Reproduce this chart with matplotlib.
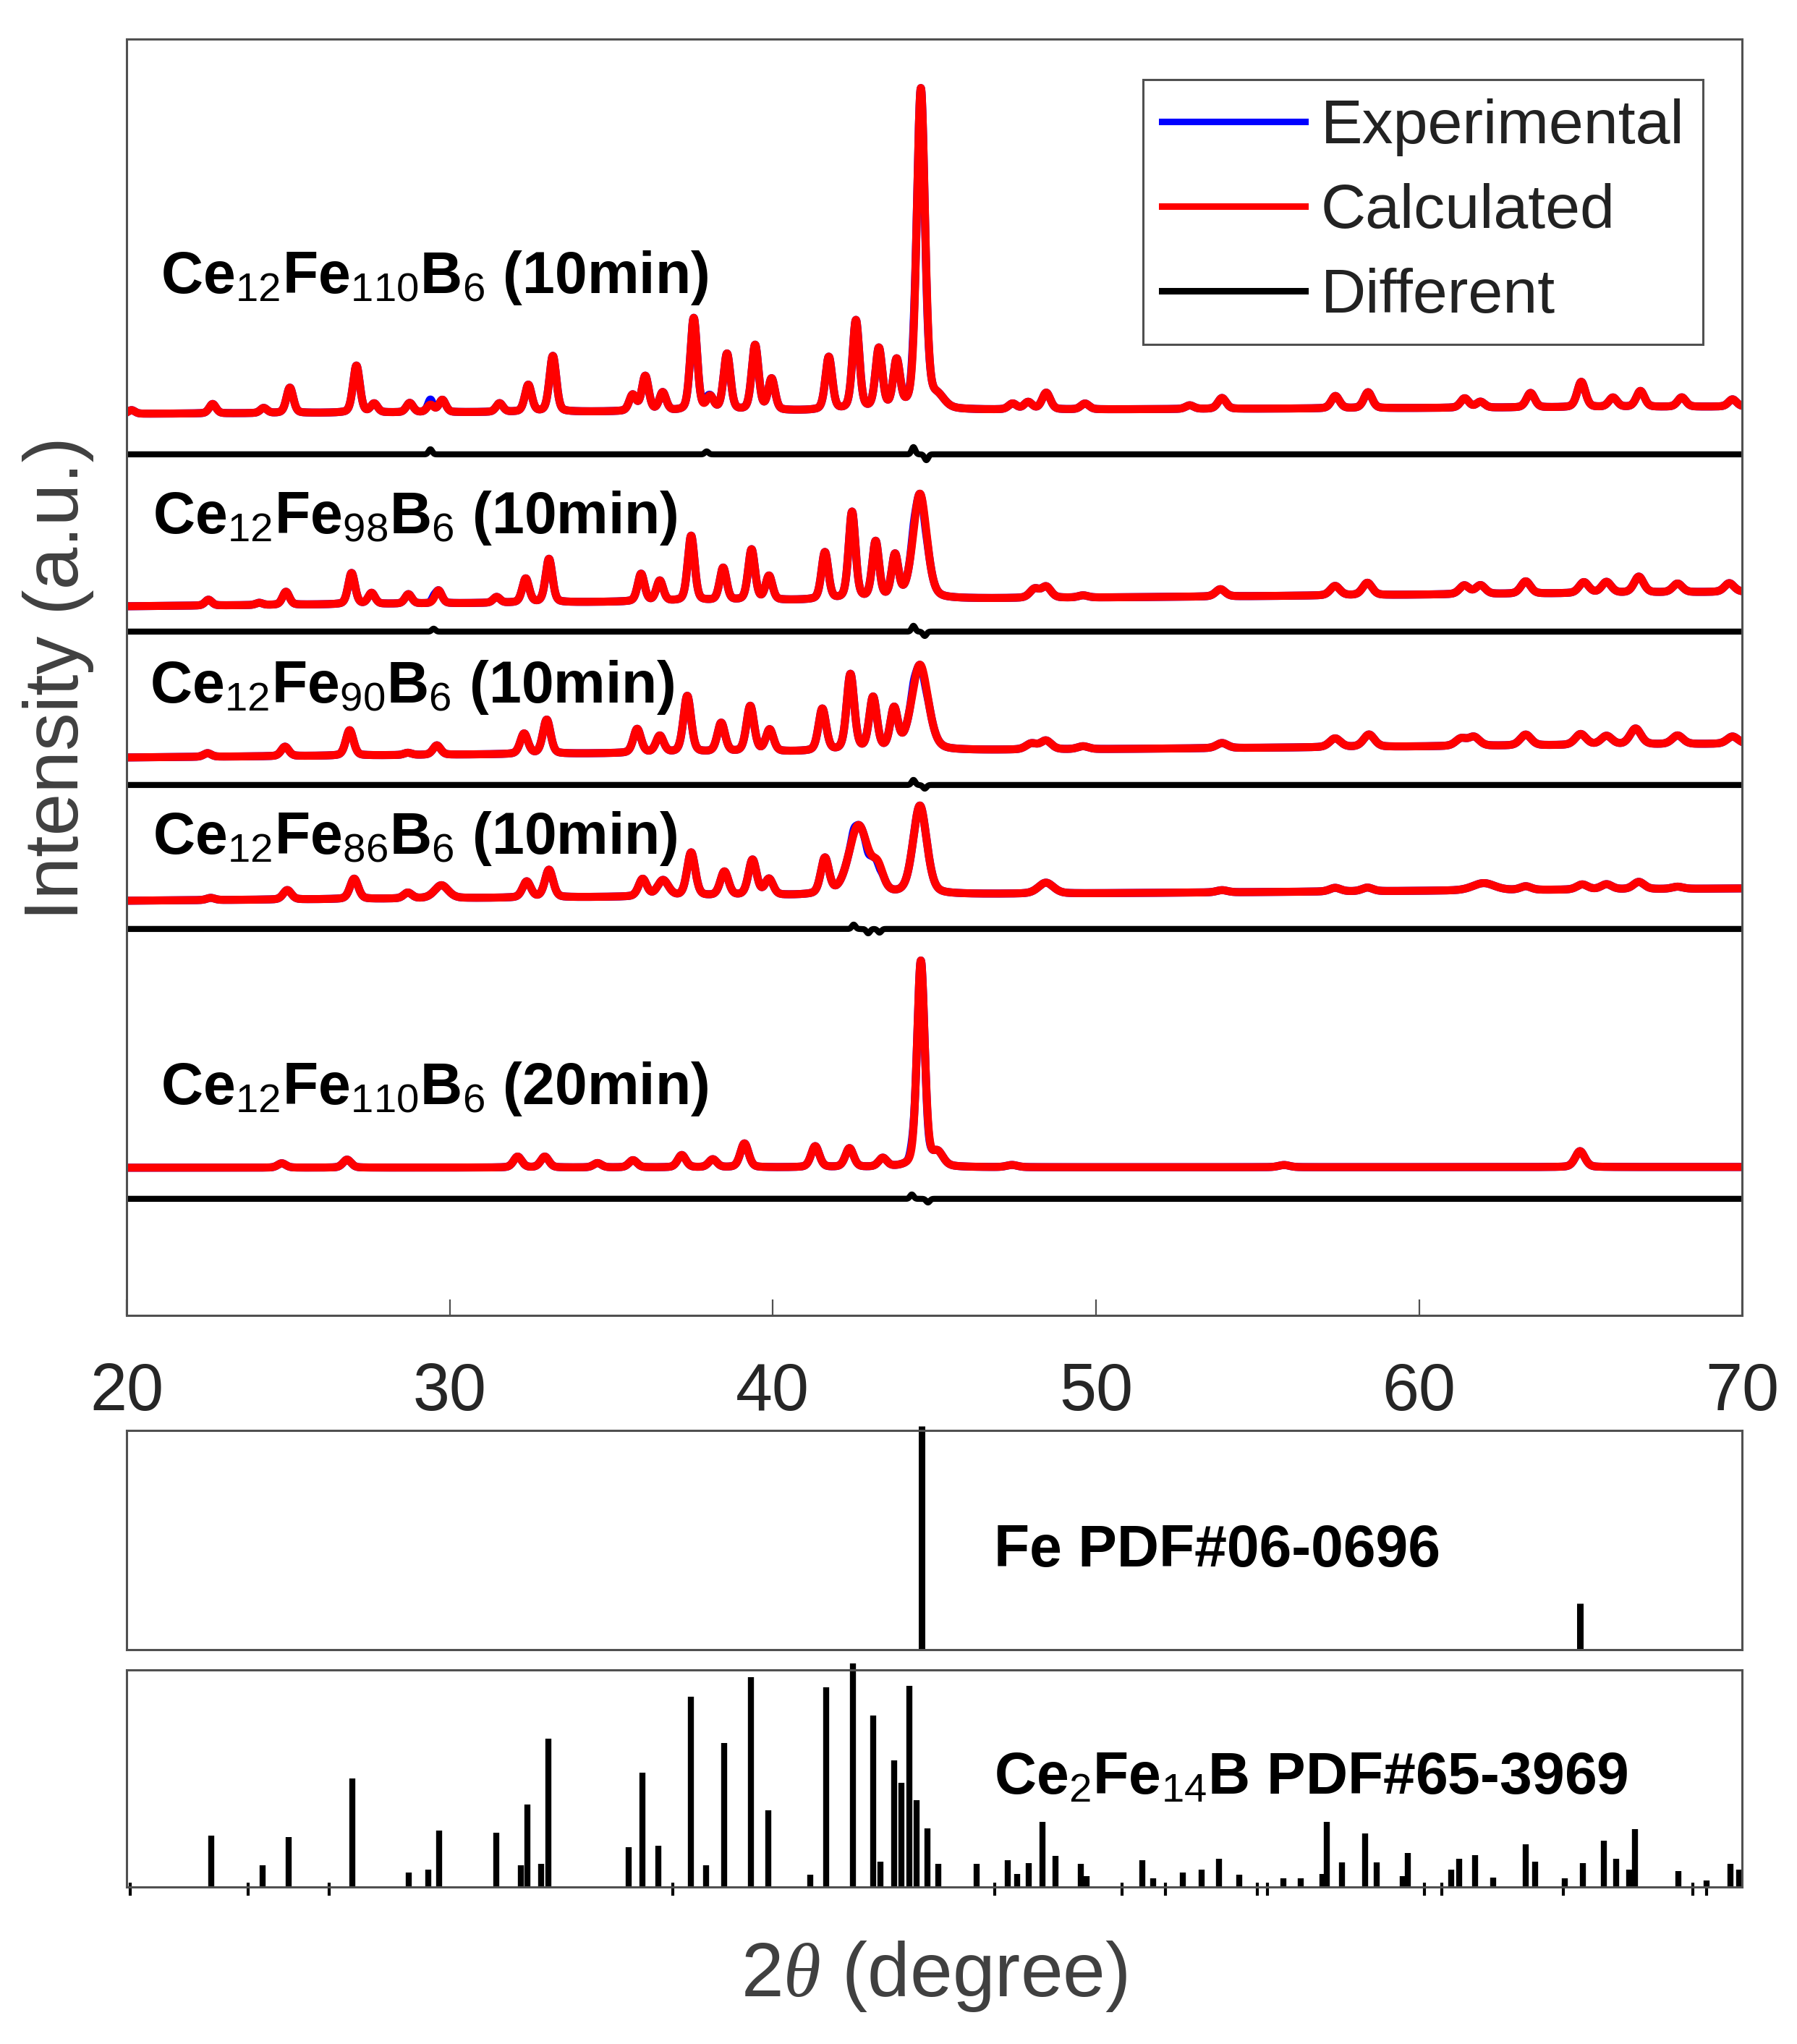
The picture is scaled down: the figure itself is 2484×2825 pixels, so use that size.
import numpy as np
import matplotlib.pyplot as plt
from matplotlib.lines import Line2D

plt.rcParams['font.family'] = ['Liberation Sans', 'DejaVu Sans']
plt.rcParams['mathtext.fontset'] = 'custom'
plt.rcParams['mathtext.rm'] = 'Liberation Sans'
plt.rcParams['mathtext.it'] = 'Liberation Serif:italic'
plt.rcParams['mathtext.bf'] = 'Liberation Sans:bold'

# ---- data (peak position [deg], height [a.u.], fwhm [deg]) ----
labels = [r'Ce$_{12}$Fe$_{110}$B$_6$ (10min)', r'Ce$_{12}$Fe$_{98}$B$_6$ (10min)',
          r'Ce$_{12}$Fe$_{90}$B$_6$ (10min)', r'Ce$_{12}$Fe$_{86}$B$_6$ (10min)',
          r'Ce$_{12}$Fe$_{110}$B$_6$ (20min)']

p1_pos = [20.15, 22.66, 24.24, 25.05, 27.11, 27.66, 28.76, 29.40, 29.77, 31.54, 32.43, 33.19,
          35.66, 36.05, 36.59, 37.55, 38.06, 38.58, 39.45, 39.96, 41.73, 42.57, 43.28, 43.83,
          44.58, 45.10, 47.42, 47.90, 48.46, 49.66, 52.90, 53.90, 57.41, 58.42, 61.41, 61.90,
          63.45, 65.02, 66.00, 66.85, 68.13, 69.70]
p1_int = [5, 13, 7, 35, 65, 12, 13, 10, 17, 12, 37, 77,
          22, 48, 25, 128, 18, 78, 90, 43, 73, 123, 83, 65,
          443, 15, 8, 10, 23, 8, 5, 15, 17, 22, 13, 8,
          20, 35, 13, 22, 13, 10]
p1_fw = [0.25] * 24 + [0.30, 0.5] + [0.3] * 16

p2_pos = [22.53, 24.10, 24.93, 26.96, 27.58, 28.72, 29.65, 31.45, 32.35, 33.07, 35.92, 36.50,
          37.47, 38.46, 39.34, 39.88, 41.61, 42.45, 43.18, 43.78, 44.55, 48.10, 48.46, 49.60,
          53.85, 57.40, 58.40, 61.40, 61.90, 63.30, 65.10, 65.80, 66.80, 68.00, 69.60]
p2_int = [8, 3, 18, 43, 15, 13, 18, 8, 33, 60, 38, 28,
          90, 45, 70, 33, 65, 120, 78, 58, 145, 12, 15, 3,
          10, 13, 17, 12, 12, 17, 15, 15, 22, 12, 12]
p2_fw = [0.25] * 20 + [0.50] + [0.35] * 14

p3_pos = [22.50, 24.90, 26.90, 28.70, 29.60, 32.30, 33.00, 35.80, 36.50, 37.35, 38.40, 39.30,
          39.90, 41.53, 42.40, 43.10, 43.75, 44.55, 48.00, 48.45, 49.60, 53.90, 57.40, 58.45,
          61.30, 61.70, 63.30, 65.00, 65.80, 66.70, 68.00, 69.70]
p3_int = [5, 13, 35, 3, 13, 28, 47, 33, 23, 78, 40, 63,
          30, 58, 105, 72, 55, 118, 8, 12, 4, 7, 12, 17,
          10, 12, 15, 15, 12, 22, 12, 10]
p3_fw = [0.28] * 17 + [0.60] + [0.4] * 14

p4_pos = [22.60, 24.97, 27.04, 28.70, 29.74, 32.38, 33.07, 35.97, 36.60, 37.47, 38.50, 39.37,
          39.88, 41.61, 42.65, 43.25, 44.55, 48.45, 53.90, 57.40, 58.40, 62.00, 63.30, 65.05,
          65.80, 66.80, 68.00]
p4_int = [3, 13, 28, 8, 18, 22, 38, 24, 22, 60, 33, 49,
          22, 49, 95, 30, 122, 15, 3, 5, 5, 10, 5, 7,
          7, 10, 3]
p4_fw = [0.3, 0.3, 0.3, 0.3, 0.5, 0.3, 0.3, 0.3, 0.4, 0.3, 0.3, 0.3,
         0.3, 0.3, 0.70, 0.40, 0.50, 0.55, 0.4, 0.4, 0.4, 0.8, 0.4, 0.4,
         0.4, 0.4, 0.4]

p5_pos = [24.80, 26.82, 32.10, 32.94, 34.57, 35.67, 37.18, 38.14, 39.12, 41.31, 42.37, 43.40,
          44.58, 45.10, 47.40, 55.82, 64.98]
p5_int = [6, 11, 15, 15, 6, 10, 17, 11, 33, 29, 26, 12,
          285, 18, 3, 3, 22]
p5_fw = [0.3] * 12 + [0.28, 0.4, 0.4, 0.4, 0.35]

# background level at 20 and 70 deg, and level of the difference curve
bg_start = [1246, 980, 771, 573, 204]
bg_end = [1256, 1000, 790, 590, 205]
diff_level = [1190, 945, 733, 534, 161]

# residual (exp - calc) features
d1_pos, d1_amp = [29.40, 37.95, 44.35, 44.75], [7, 4, 10, -8]
d2_pos, d2_amp = [29.50, 44.35, 44.70], [4, 8, -6]
d3_pos, d3_amp = [44.35, 44.70], [7, -5]
d4_pos, d4_amp = [42.50, 42.95, 43.30], [6, -6, -5]
d5_pos, d5_amp = [44.30, 44.80], [6, -5]

# reference patterns (relative intensities)
fe_pos = [44.60, 64.98]
fe_int = [1.02, 0.21]

ce_pos = [22.61, 24.20, 25.01, 26.98, 28.72, 29.34, 29.67, 31.43, 32.20, 32.41, 32.83, 33.06,
          35.54, 35.97, 36.45, 37.46, 37.94, 38.49, 39.31, 39.86, 41.16, 41.64, 42.48, 43.11,
          43.33, 43.76, 43.97, 44.22, 44.45, 44.79, 45.13, 46.30, 47.27, 47.55, 47.91, 48.34,
          48.75, 49.52, 49.70, 51.43, 51.77, 52.68, 53.26, 53.80, 54.43, 55.80, 56.33, 57.00,
          57.14, 57.62, 58.33, 58.69, 59.50, 59.64, 61.00, 61.25, 61.73, 62.30, 63.30, 63.60,
          64.50, 65.08, 65.71, 66.10, 66.50, 66.69, 68.03, 68.90, 69.63, 69.90]
ce_int = [0.236, 0.10, 0.23, 0.50, 0.067, 0.08, 0.26, 0.25, 0.10, 0.38, 0.107, 0.685,
          0.185, 0.528, 0.19, 0.876, 0.10, 0.663, 0.966, 0.354, 0.056, 0.92, 1.03, 0.79,
          0.118, 0.584, 0.48, 0.927, 0.40, 0.27, 0.107, 0.107, 0.124, 0.06, 0.109, 0.30,
          0.143, 0.107, 0.05, 0.124, 0.04, 0.067, 0.08, 0.13, 0.056, 0.04, 0.04, 0.06,
          0.30, 0.112, 0.247, 0.112, 0.05, 0.157, 0.08, 0.13, 0.146, 0.045, 0.197, 0.118,
          0.04, 0.109, 0.213, 0.13, 0.08, 0.266, 0.073, 0.03, 0.107, 0.08]
# very weak lines that show as small marks under the baseline
ce_weak = [20.10, 23.76, 26.26, 36.91, 46.87, 50.80, 52.14, 55.00, 55.30, 60.17, 60.70,
           64.46, 68.47, 68.90]

peaks = [(p1_pos, p1_int, p1_fw), (p2_pos, p2_int, p2_fw), (p3_pos, p3_int, p3_fw),
         (p4_pos, p4_int, p4_fw), (p5_pos, p5_int, p5_fw)]
resid = [(d1_pos, d1_amp), (d2_pos, d2_amp), (d3_pos, d3_amp), (d4_pos, d4_amp), (d5_pos, d5_amp)]
label_y = [1413, 1081, 847, 638, 292]
label_x = [21.05, 20.8, 20.72, 20.8, 21.05]


def pvoigt(x, x0, h, w, eta=0.3):
    u = (x - x0) / w
    return h * (eta / (1 + 4 * u**2) + (1 - eta) * np.exp(-4 * np.log(2) * u**2))


tt = np.arange(20, 70.0001, 0.01)
edge = '#505050'

fig = plt.figure(figsize=(24.84, 28.25), dpi=100)
ax = fig.add_axes([0.0705, 0.3565, 0.899, 0.6244])
ax_fe = fig.add_axes([0.0705, 0.1929, 0.899, 0.1073])
ax_ce = fig.add_axes([0.0705, 0.0768, 0.899, 0.1062])

for i in range(5):
    pos, inten, fw = peaks[i]
    calc = bg_start[i] + (bg_end[i] - bg_start[i]) * (tt - 20) / 50
    for p, h, w in zip(pos, inten, fw):
        calc = calc + pvoigt(tt, p, h, w)
    diff = np.zeros_like(tt)
    for p, a in zip(*resid[i]):
        diff = diff + a * np.exp(-((tt - p) / 0.08)**2)
    ax.plot(tt, calc + diff, color='blue', lw=8, solid_joinstyle='round')
    ax.plot(tt, calc, color='red', lw=8, solid_joinstyle='round')
    ax.plot(tt, diff_level[i] + diff, color='black', lw=6)
    ax.text(label_x[i], label_y[i], labels[i], fontsize=58, fontweight='bold',
            ha='left', va='baseline')

ax.set_xlim(20, 70)
ax.set_ylim(0, 1764)
ax.set_xticks([20, 30, 40, 50, 60, 70])
ax.set_yticks([])
ax.tick_params(axis='x', direction='in', length=16, width=1.6, color=edge,
               labelsize=66, labelcolor='#262626', pad=46)

handles = [Line2D([], [], color='blue', lw=6.5), Line2D([], [], color='red', lw=6.5),
           Line2D([], [], color='black', lw=6.5)]
leg = ax.legend(handles, ['Experimental', 'Calculated', 'Different'], loc='upper right',
                bbox_to_anchor=(0.9758, 0.9683), borderaxespad=0, fontsize=62,
                handlelength=2.3, handletextpad=0.25, labelspacing=0.43,
                borderpad=0.3, fancybox=False, framealpha=1)
leg.get_frame().set_edgecolor(edge)
leg.get_frame().set_linewidth(2.2)
for t in leg.get_texts():
    t.set_color('#222222')

# Fe reference
ax_fe.vlines(fe_pos, 0, fe_int, color='black', lw=6.5, clip_on=False)
ax_fe.text(46.84, 0.38, 'Fe PDF#06-0696', fontsize=58, fontweight='bold',
           ha='left', va='baseline', transform=ax_fe.get_xaxis_transform())

# Ce2Fe14B reference
ax_ce.vlines(ce_pos, 0, ce_int, color='black', lw=6, clip_on=False)
ax_ce.vlines(ce_weak, -0.04, 0.02, color='black', lw=3, clip_on=False)
ax_ce.text(46.84, 0.427, r'Ce$_2$Fe$_{14}$B PDF#65-3969', fontsize=58, fontweight='bold',
           ha='left', va='baseline', transform=ax_ce.get_xaxis_transform())

for a in (ax_fe, ax_ce):
    a.set_xlim(20, 70)
    a.set_ylim(0, 1)
    a.set_xticks([])
    a.set_yticks([])

for a in (ax, ax_fe, ax_ce):
    for s in a.spines.values():
        s.set_color(edge)
        s.set_linewidth(2.2)

fig.text(0.0326, 0.668, 'Intensity (a.u.)', fontsize=76, color='#404040',
         rotation=90, ha='center', va='center')
fig.text(0.5199, 0.033, r'2$\theta$ (degree)', fontsize=76, color='#404040',
         ha='center', va='center')

fig.savefig('out.png', dpi=100)
